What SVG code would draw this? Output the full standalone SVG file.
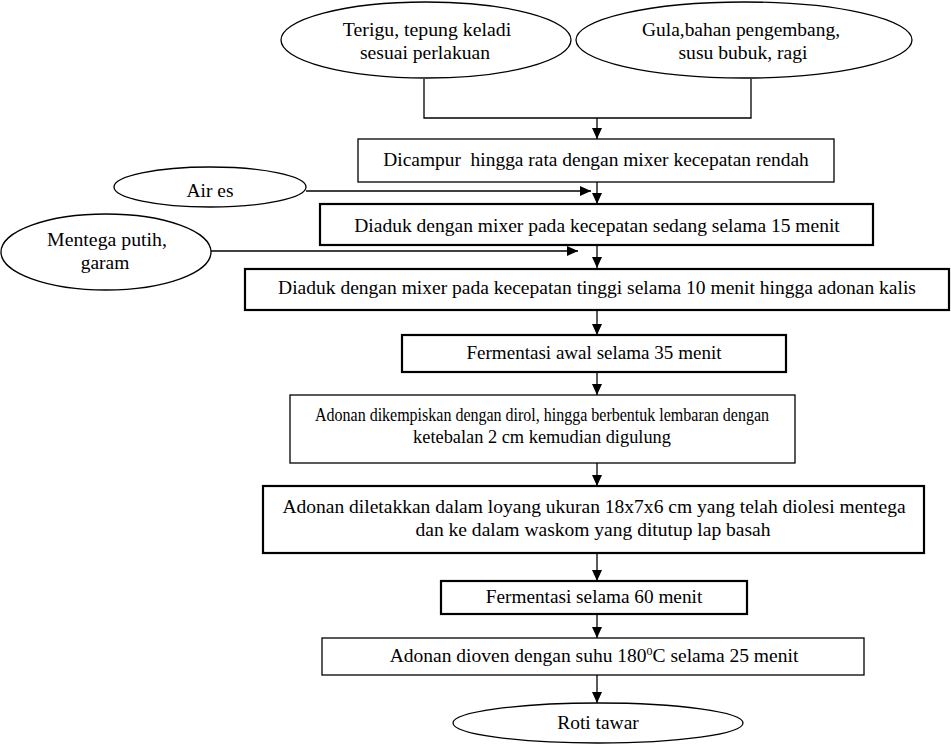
<svg xmlns="http://www.w3.org/2000/svg" width="951" height="745" viewBox="0 0 951 745">
<defs>
<marker id="ah" viewBox="0 0 11 10" refX="11" refY="5" markerWidth="11" markerHeight="10" markerUnits="userSpaceOnUse" orient="auto">
<path d="M0,0 L11,5 L0,10 Z" fill="#000"/>
</marker>
</defs>
<style>
.n{fill:#fff;stroke:#000;stroke-width:1.3}
.t{fill:#fff;stroke:#000;stroke-width:2.2}
.c{fill:none;stroke:#000;stroke-width:1.3}
</style>
<rect width="951" height="745" fill="#fff"/>
<g id="connectors">
<polyline class="c" points="424,79 424,118 751,118 751,79"/>
<line class="c" x1="597" y1="118" x2="597" y2="139" marker-end="url(#ah)"/>
<line class="c" x1="306" y1="191" x2="591" y2="191" marker-end="url(#ah)"/>
<line class="c" x1="597" y1="182" x2="597" y2="204" marker-end="url(#ah)"/>
<line class="c" x1="211" y1="251" x2="578" y2="251" marker-end="url(#ah)"/>
<line class="c" x1="597" y1="245" x2="597" y2="268" marker-end="url(#ah)"/>
<line class="c" x1="597" y1="310" x2="597" y2="335" marker-end="url(#ah)"/>
<line class="c" x1="597" y1="372" x2="597" y2="395" marker-end="url(#ah)"/>
<line class="c" x1="597" y1="463" x2="597" y2="486" marker-end="url(#ah)"/>
<line class="c" x1="597" y1="553" x2="597" y2="581" marker-end="url(#ah)"/>
<line class="c" x1="597" y1="614" x2="597" y2="638" marker-end="url(#ah)"/>
<line class="c" x1="597" y1="675" x2="597" y2="703" marker-end="url(#ah)"/>
</g>
<g font-family="Liberation Serif, DejaVu Serif, serif" font-size="18" text-anchor="middle" fill="#000">
<g id="n1"><ellipse class="n" cx="426" cy="40" rx="145" ry="38"/><text transform="translate(427 36) scale(1.1 1)">Terigu, tepung keladi</text><text transform="translate(425 59) scale(1.09 1)">sesuai perlakuan</text></g>
<g id="n2"><ellipse class="n" cx="744" cy="40" rx="168" ry="38"/><text transform="translate(741 36) scale(1.08 1)">Gula,bahan pengembang,</text><text transform="translate(743 59) scale(1.09 1)">susu bubuk, ragi</text></g>
<g id="n3"><rect class="n" x="358" y="139" width="476" height="43"/><text transform="translate(596 166) scale(1.08 1)" xml:space="preserve">Dicampur  hingga rata dengan mixer kecepatan rendah</text></g>
<g id="n4"><ellipse class="n" cx="210" cy="187" rx="96" ry="20"/><text transform="translate(210 197) scale(1.08 1)">Air es</text></g>
<g id="n5"><rect class="t" x="320" y="204" width="553" height="41"/><text transform="translate(597 232) scale(1.085 1)">Diaduk dengan mixer pada kecepatan sedang selama 15 menit</text></g>
<g id="n6"><ellipse class="n" cx="106" cy="252" rx="105" ry="38"/><text transform="translate(107 246) scale(1.1 1)">Mentega putih,</text><text transform="translate(105 269) scale(1.08 1)">garam</text></g>
<g id="n7"><rect class="t" x="245" y="269" width="704" height="41"/><text transform="translate(597 294) scale(1.085 1)">Diaduk dengan mixer pada kecepatan tinggi selama 10 menit hingga adonan kalis</text></g>
<g id="n8"><rect class="t" x="402" y="335" width="384" height="37"/><text transform="translate(594 359) scale(1.06 1)">Fermentasi awal selama 35 menit</text></g>
<g id="n9"><rect class="n" x="290" y="395" width="505" height="68"/><text transform="translate(542 421) scale(0.89 1)">Adonan dikempiskan dengan dirol, hingga berbentuk lembaran dengan</text><text transform="translate(542 443) scale(1.02 1)">ketebalan 2 cm kemudian digulung</text></g>
<g id="n10"><rect class="t" x="263" y="486" width="661" height="67"/><text transform="translate(594 513) scale(1.085 1)">Adonan diletakkan dalam loyang ukuran 18x7x6 cm yang telah diolesi mentega</text><text transform="translate(593 536) scale(1.085 1)">dan ke dalam waskom yang ditutup lap basah</text></g>
<g id="n11"><rect class="t" x="441" y="581" width="306" height="33"/><text transform="translate(594 603) scale(1.07 1)">Fermentasi selama 60 menit</text></g>
<g id="n12"><rect class="n" x="322" y="638" width="542" height="37"/><text transform="translate(594 662) scale(1.085 1)">Adonan dioven dengan suhu 180<tspan dy="-7" font-size="11">0</tspan><tspan dy="7">C selama 25 menit</tspan></text></g>
<g id="n13"><ellipse class="n" cx="598" cy="723" rx="145" ry="20"/><text transform="translate(598 729) scale(1.08 1)">Roti tawar</text></g>
</g>
</svg>
